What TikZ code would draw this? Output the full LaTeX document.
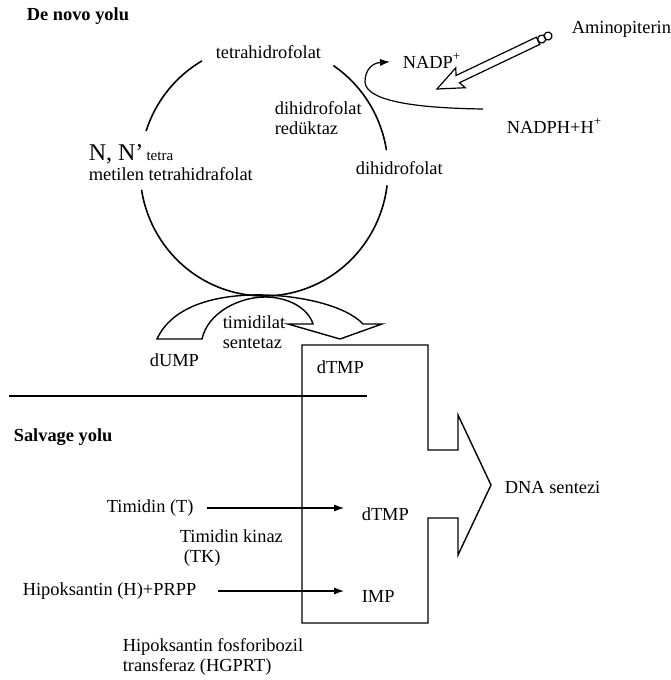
\documentclass[tikz,border=0pt]{standalone}
\usepackage{fontspec}
\setmainfont{Liberation Serif}
\usetikzlibrary{arrows.meta}

\begin{document}
\begin{tikzpicture}[x = 0.5pt, y = -0.5pt, line width = 0.8pt,
        lbl/.style = {anchor = west, inner sep = 0pt, align = left, font = \fontsize{9.2}{10}\selectfont},
        ttl/.style = {lbl, font = \fontsize{9.2}{10}\selectfont\bfseries},
        arr/.style = {-{Latex[length = 5pt, width = 3.6pt]}, line width = 0.6pt}]
    \useasboundingbox (0, 0) rectangle (670, 680);
    \node[ttl] (denovo)  at (26, 16)  {De novo yolu};
    \node[lbl] (thf)     at (215, 52) {tetrahidrofolat};
    \node[lbl] (amino)   at (571, 29) {Aminopiterin};
    \node[lbl] (nadp)    at (402, 61) {NADP\textsuperscript{+}};
    \node[lbl] (dhfr)    at (274, 118) {dihidrofolat\\redüktaz};
    \node[lbl] (nadph)   at (506, 126) {NADPH+H\textsuperscript{+}};
    \node[lbl] (nn)      at (88, 163) {{\fontsize{12}{12}\selectfont N, N'}\,{\fontsize{7.5}{9}\selectfont tetra}\\metilen tetrahidrafolat};
    \node[lbl] (dhf)     at (355, 168) {dihidrofolat};
    \node[lbl] (timsyn)  at (222, 332) {timidilat\\sentetaz};
    \node[lbl] (dump)    at (149, 360) {dUMP};
    \node[lbl] (dtmpa)   at (316, 367) {dTMP};
    \node[ttl] (salvage) at (13, 437) {Salvage yolu};
    \node[lbl] (dna)     at (504, 487) {DNA sentezi};
    \node[lbl] (timidin) at (106, 508) {Timidin (T)};
    \node[lbl] (dtmpb)   at (361, 514) {dTMP};
    \node[lbl] (tk)      at (179, 548) {Timidin kinaz\\\hspace{2pt}(TK)};
    \node[lbl] (hipo)    at (22, 591) {Hipoksantin (H)+PRPP};
    \node[lbl] (imp)     at (361, 596) {IMP};
    \node[lbl] (hgprt)   at (122, 657) {Hipoksantin fosforibozil\\transferaz (HGPRT)};
    \coordinate (nadphin) at (483, 109);
    \coordinate (aminotip) at (437, 89);

    \draw plot[smooth, domain = -162:-120, samples = 20] ({264 + 124*cos(\x)}, {170 + 126*sin(\x)});
    \draw plot[smooth, domain = -56:-9, samples = 20] ({264 + 124*cos(\x)}, {170 + 126*sin(\x)});
    \draw plot[smooth, domain = 7:171, samples = 60] ({264 + 124*cos(\x)}, {170 + 126*sin(\x)});

    \draw[line width = 0.7pt] (157, 339) .. controls (175, 300) and (230, 294) .. (265, 295)
        .. controls (300, 296) and (345, 305) .. (363, 324) -- (382, 324) -- (340, 339) -- (288, 324) -- (313, 324)
        .. controls (308, 308) and (288, 297) .. (265, 297) .. controls (240, 297) and (208, 312) .. (202, 339) -- cycle;

    \draw[arr] (nadphin) .. controls (410, 108) and (366, 100) .. (365, 82) .. controls (365, 70) and (372, 63) .. (nadp.west) [shorten > = 6pt];
    \begin{scope}[shift = {(aminotip)}, rotate = 25.5, line width = 0.6pt]
        \draw (0, 0) -- (26, 11) -- (23, 4) -- (112, 4) -- (112, -4) -- (23, -4) -- (26, -11) -- cycle;
        \draw (116, 0) circle[radius = 4] (123, 0) circle[radius = 4];
    \end{scope}

    \draw (9, 396) -- (367, 396);
    \draw[line width = 0.7pt] (302, 345) -- (428, 345) -- (428, 450) -- (458, 450) -- (458, 415) -- (491, 485)
        -- (458, 555) -- (458, 518) -- (428, 518) -- (428, 623) -- (302, 623) -- cycle;

    \draw[arr, shorten < = 6.5pt, shorten > = 8.5pt] (timidin.east) -- (timidin.east -| dtmpb.west);
    \draw[arr, shorten < = 10.5pt, shorten > = 8.5pt] (hipo.east) -- (hipo.east -| imp.west);
\end{tikzpicture}
\end{document}
